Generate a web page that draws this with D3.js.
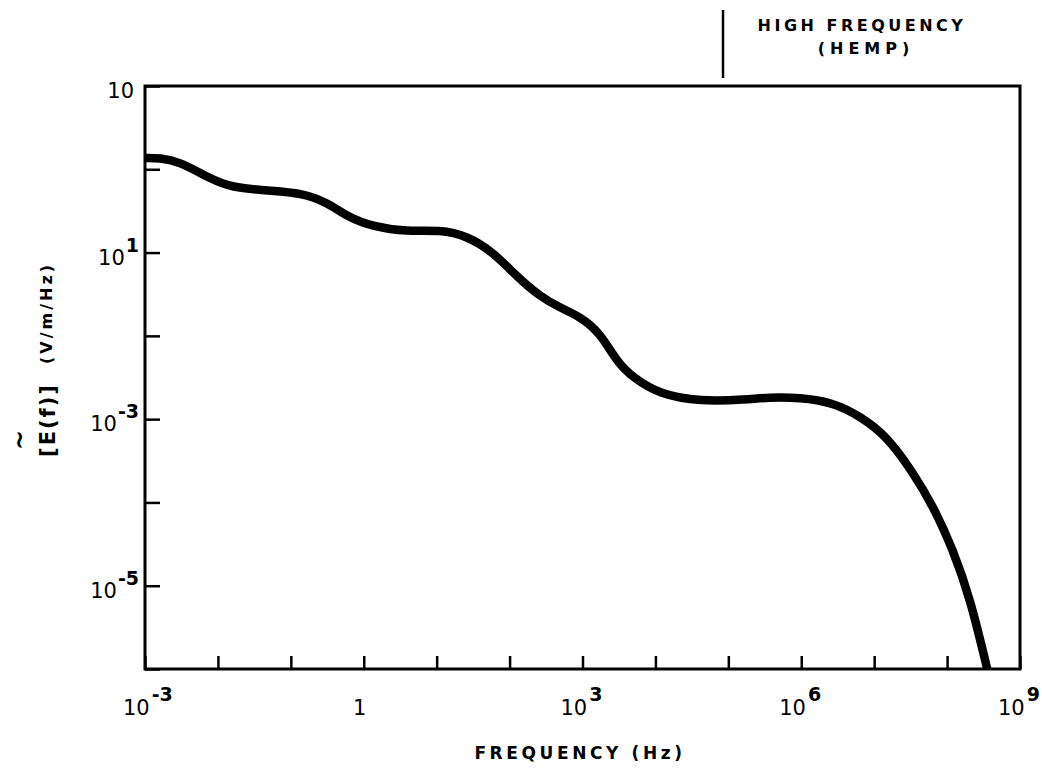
<!DOCTYPE html>
<html lang="en">
<head>
    <meta charset="UTF-8">
    <title>HEMP spectrum</title>
    <script src="https://d3js.org/d3.v7.min.js"></script>
    <style>
        body {
            margin: 0;
            padding: 0;
            background-color: #fff;
        }
        svg text {
            font-family: "DejaVu Sans", Arial, sans-serif;
            fill: #000;
        }
    </style>
</head>
<body>
    <svg id="chart" width="1042" height="772"></svg>

    <script>
        // values (frequency in Hz, field in V/m/Hz)
        const freq = [1.0e-3, 1.6e-3, 3.0e-3, 7.1e-3, 1.5e-2, 5.8e-2, 0.135, 0.32, 0.59, 1.35,
            3.9, 11.2, 26, 59, 126, 263, 490, 933, 1740, 2950,
            4900, 11500, 40700, 182000, 339000, 955000, 2.75e6, 6.46e6, 1.51e7, 3.39e7,
            6.46e7, 1.20e8, 2.09e8, 3.55e8];
        const field = [1.37, 1.37, 1.23, 0.81, 0.60, 0.55, 0.52, 0.40, 0.27, 0.204,
            0.178, 0.188, 0.159, 0.102, 0.0514, 0.0296, 0.0218, 0.0170, 0.0109, 0.00492,
            0.00316, 0.00198, 0.00163, 0.00172, 0.00182, 0.00182, 0.00158, 0.00108, 6.2e-4, 2.3e-4,
            9.0e-5, 2.74e-5, 6.9e-6, 1.0e-6];

        const xTickVals = [1e-3, 1e-2, 1e-1, 1, 1e1, 1e2, 1e3, 1e4, 1e5, 1e6, 1e7, 1e8, 1e9];
        const xLabelVals = [1e-3, 1, 1e3, 1e6, 1e9];
        const xLabelSup = ["-3", "", "3", "6", "9"];

        const yTickVals = [1e-6, 1e-5, 1e-4, 1e-3, 1e-2, 1e-1, 1, 1e1];
        const yLabelVals = [1e1, 1e-1, 1e-3, 1e-5];
        const yLabelSup = ["", "1", "-3", "-5"];

        const svg = d3.select("#chart");
        const mLeft = 145, mRight = 1020, mTop = 86, mBottom = 669;

        const x = d3.scaleLog().domain([1e-3, 1e9]).range([mLeft, mRight]);
        const y = d3.scaleLog().domain([1e-6, 1e1]).range([mBottom, mTop]);

        // ticks, pointing into the plot
        svg.append("g")
            .attr("transform", `translate(0,${mBottom})`)
            .call(d3.axisBottom(x).tickValues(xTickVals).tickSizeInner(-13).tickSizeOuter(0).tickFormat(""))
            .call(g => g.select(".domain").remove())
            .selectAll("line").attr("stroke", "#000").attr("stroke-width", 2.5);

        svg.append("g")
            .attr("transform", `translate(${mLeft},0)`)
            .call(d3.axisLeft(y).tickValues(yTickVals).tickSizeInner(-15).tickSizeOuter(0).tickFormat(""))
            .call(g => g.select(".domain").remove())
            .selectAll("line").attr("stroke", "#000").attr("stroke-width", 2.5);

        // frame
        svg.append("rect")
            .attr("x", mLeft).attr("y", mTop)
            .attr("width", mRight - mLeft).attr("height", mBottom - mTop)
            .attr("fill", "none").attr("stroke", "#000").attr("stroke-width", 3);

        // x tick labels: "10" ends at the tick, exponent to the right
        const xl = svg.selectAll(".xlab")
            .data(xLabelVals)
            .enter()
            .append("text")
            .attr("class", "xlab")
            .attr("x", (d, i) => xLabelSup[i] === "" ? x(d) - 4 : x(d) - 22)
            .attr("y", 715)
            .attr("text-anchor", (d, i) => xLabelSup[i] === "" ? "middle" : "start")
            .attr("font-size", "21px");
        xl.append("tspan").text((d, i) => xLabelSup[i] === "" ? "1" : "10");
        xl.append("tspan")
            .attr("dy", -14).attr("dx", 2)
            .attr("font-size", "19px")
            .attr("font-weight", "bold")
            .text((d, i) => xLabelSup[i]);

        // y tick labels
        const yl = svg.selectAll(".ylab")
            .data(yLabelVals)
            .enter()
            .append("text")
            .attr("class", "ylab")
            .attr("x", (d, i) => yLabelSup[i] === "" ? 134 : 139)
            .attr("y", d => y(d) + 12)
            .attr("text-anchor", "end")
            .attr("font-size", "21px");
        yl.append("tspan").text("10");
        yl.append("tspan")
            .attr("dy", -13).attr("dx", 1)
            .attr("font-size", "19px")
            .attr("font-weight", "bold")
            .text((d, i) => yLabelSup[i]);

        // curve
        const line = d3.line()
            .x(d => x(d[0]))
            .y(d => y(d[1]))
            .curve(d3.curveBasis);

        svg.append("path")
            .datum(d3.zip(freq, field))
            .attr("d", line)
            .attr("fill", "none")
            .attr("stroke", "#000")
            .attr("stroke-width", 8.5)
            .attr("stroke-linecap", "butt")
            .attr("stroke-linejoin", "round");

        // axis titles
        svg.append("text")
            .attr("x", 580).attr("y", 759)
            .attr("text-anchor", "middle")
            .attr("font-size", "17px")
            .attr("font-weight", "bold")
            .attr("letter-spacing", "3.6px")
            .text("FREQUENCY (Hz)");

        svg.append("text")
            .attr("transform", "translate(52,313) rotate(-90)")
            .attr("text-anchor", "middle")
            .attr("font-size", "16px")
            .attr("font-weight", "bold")
            .attr("letter-spacing", "3px")
            .text("(V/m/Hz)");

        svg.append("text")
            .attr("transform", "translate(55,420) rotate(-90)")
            .attr("text-anchor", "middle")
            .attr("font-size", "21px")
            .attr("font-weight", "bold")
            .attr("letter-spacing", "2px")
            .text("[E(f)]");

        svg.append("text")
            .attr("transform", "translate(28,440) rotate(-90)")
            .attr("text-anchor", "middle")
            .attr("font-size", "24px")
            .attr("font-weight", "bold")
            .text("~");

        // high frequency annotation
        svg.append("line")
            .attr("x1", 723).attr("x2", 723)
            .attr("y1", 10).attr("y2", 78)
            .attr("stroke", "#000").attr("stroke-width", 2.5);

        svg.append("text")
            .attr("x", 862).attr("y", 31)
            .attr("text-anchor", "middle")
            .attr("font-size", "16px")
            .attr("font-weight", "bold")
            .attr("letter-spacing", "3.5px")
            .text("HIGH FREQUENCY");

        svg.append("text")
            .attr("x", 866).attr("y", 54)
            .attr("text-anchor", "middle")
            .attr("font-size", "16px")
            .attr("font-weight", "bold")
            .attr("letter-spacing", "5px")
            .text("(HEMP)");
    </script>
</body>
</html>
